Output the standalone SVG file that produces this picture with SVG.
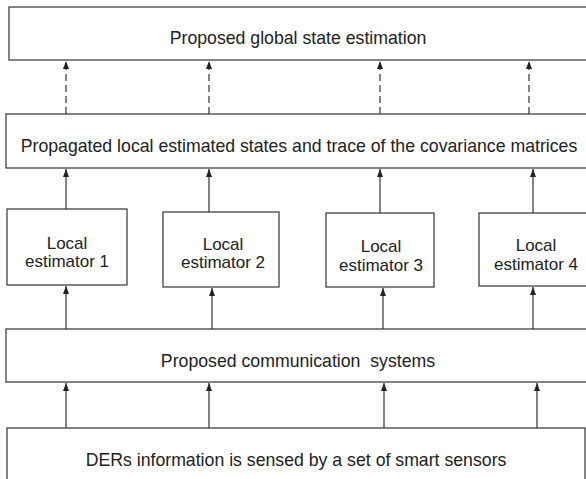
<svg xmlns="http://www.w3.org/2000/svg" width="586" height="479" viewBox="0 0 586 479">
  <style>
    .box { fill: #ffffff; stroke: #333333; stroke-width: 1.2; }
    .lbl { font-family: "Liberation Sans", Arial, sans-serif; font-size: 17.7px; fill: #222222; text-anchor: middle; }
    .loc { font-family: "Liberation Sans", Arial, sans-serif; font-size: 17px; fill: #222222; text-anchor: middle; }
    .link { fill: none; stroke: #333333; stroke-width: 1.2; marker-end: url(#arrow); }
    .dash { stroke-dasharray: 7 4; }
  </style>
  <defs>
    <marker id="arrow" markerUnits="userSpaceOnUse" markerWidth="10" markerHeight="8" refX="8" refY="3" orient="auto">
      <path d="M0,0 L8,3 L0,6 z" fill="#222222"/>
    </marker>
  </defs>
  <rect width="586" height="479" fill="#ffffff"/>

  <g id="global-estimation">
    <rect class="box" x="9" y="7" width="590" height="53"/>
    <text class="lbl" x="298" y="44">Proposed global state estimation</text>
  </g>

  <g id="propagated-states">
    <rect class="box" x="6" y="114" width="593" height="54"/>
    <text class="lbl" x="299" y="152">Propagated local estimated states and trace of the covariance matrices</text>
  </g>

  <g id="local-estimator-1">
    <rect class="box" x="7" y="209" width="120" height="76"/>
    <text class="loc" x="67" y="249">Local</text>
    <text class="loc" x="67" y="267">estimator 1</text>
  </g>

  <g id="local-estimator-2">
    <rect class="box" x="163" y="212" width="116" height="75"/>
    <text class="loc" x="223" y="250">Local</text>
    <text class="loc" x="223" y="268">estimator 2</text>
  </g>

  <g id="local-estimator-3">
    <rect class="box" x="326" y="213" width="108" height="74"/>
    <text class="loc" x="381" y="252">Local</text>
    <text class="loc" x="381" y="271">estimator 3</text>
  </g>

  <g id="local-estimator-4">
    <rect class="box" x="479" y="213" width="120" height="73"/>
    <text class="loc" x="536" y="251">Local</text>
    <text class="loc" x="536" y="270">estimator 4</text>
  </g>

  <g id="communication-systems">
    <rect class="box" x="6" y="329" width="593" height="53"/>
    <text class="lbl" x="298" y="367" xml:space="preserve">Proposed communication  systems</text>
  </g>

  <g id="smart-sensors">
    <rect class="box" x="7" y="428" width="578" height="60"/>
    <text class="lbl" x="296" y="466">DERs information is sensed by a set of smart sensors</text>
  </g>

  <g id="connectors">
    <!-- propagated states to global estimation (dashed) -->
    <line class="link dash" x1="66" y1="114" x2="66" y2="61"/>
    <line class="link dash" x1="209" y1="114" x2="209" y2="61"/>
    <line class="link dash" x1="380" y1="114" x2="380" y2="61"/>
    <line class="link dash" x1="529" y1="114" x2="529" y2="61"/>
    <!-- local estimators to propagated states -->
    <line class="link" x1="66" y1="209" x2="66" y2="169"/>
    <line class="link" x1="209" y1="212" x2="209" y2="169"/>
    <line class="link" x1="380" y1="213" x2="380" y2="169"/>
    <line class="link" x1="533" y1="213" x2="533" y2="169"/>
    <!-- communication systems to local estimators -->
    <line class="link" x1="66" y1="329" x2="66" y2="286"/>
    <line class="link" x1="212" y1="329" x2="212" y2="288"/>
    <line class="link" x1="383" y1="329" x2="383" y2="288"/>
    <line class="link" x1="533" y1="329" x2="533" y2="287"/>
    <!-- smart sensors to communication systems -->
    <line class="link" x1="66" y1="428" x2="66" y2="383"/>
    <line class="link" x1="209" y1="428" x2="209" y2="383"/>
    <line class="link" x1="384" y1="428" x2="384" y2="383"/>
    <line class="link" x1="537" y1="428" x2="537" y2="383"/>
  </g>
</svg>
